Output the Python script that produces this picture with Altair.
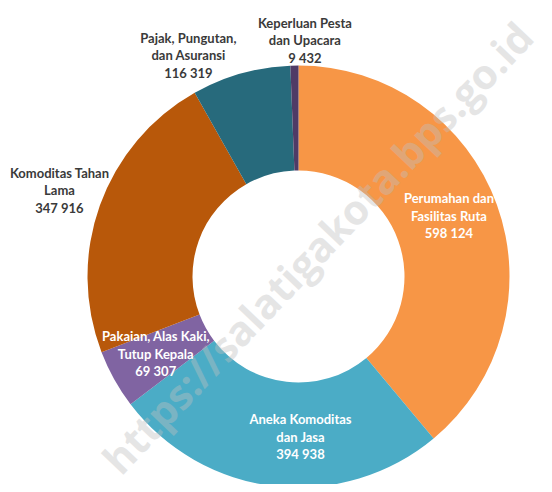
import altair as alt
import pandas as pd

categories = [
    "Perumahan dan Fasilitas Ruta",
    "Aneka Komoditas dan Jasa",
    "Pakaian, Alas Kaki, Tutup Kepala",
    "Komoditas Tahan Lama",
    "Pajak, Pungutan, dan Asuransi",
    "Keperluan Pesta dan Upacara",
]
label_lines = [
    ["Perumahan dan", "Fasilitas Ruta"],
    ["Aneka Komoditas", "dan Jasa"],
    ["Pakaian, Alas Kaki,", "Tutup Kepala"],
    ["Komoditas Tahan", "Lama"],
    ["Pajak, Pungutan,", "dan Asuransi"],
    ["Keperluan Pesta", "dan Upacara"],
]
values = [598124, 394938, 69307, 347916, 116319, 9432]
colors = ["#F79646", "#4BACC6", "#8064A2", "#B8580A", "#276A7C", "#4F3B66"]
watermark = "https://salatigakota.bps.go.id"

df = pd.DataFrame({
    "category": categories,
    "value": values,
    "idx": list(range(len(categories))),
    "label": ["\n".join(l + [f"{v:,}".replace(",", " ")]) for l, v in zip(label_lines, values)],
})

CX, CY = 290.5, 268.5
FONT = "Lato"
SHIFT = -17

arcs = alt.Chart(df).mark_arc(outerRadius=211, innerRadius=106).encode(
    theta=alt.Theta("value:Q", stack=True),
    order=alt.Order("idx:Q"),
    color=alt.Color("category:N", scale=alt.Scale(domain=categories, range=colors), legend=None),
    x=alt.value(CX),
    y=alt.value(CY),
)

base_text = alt.Chart(df).transform_window(
    cum="sum(value)", sort=[alt.SortField("idx")]
).transform_joinaggregate(
    total="sum(value)"
).transform_calculate(
    mid="(datum.cum - datum.value / 2) / datum.total * 2 * PI"
)

# per-label style: radius, dx, dy, colour
label_style = {
    categories[0]: (160, 0, -6, "white"),
    categories[1]: (160, 20, 2, "white"),
    categories[2]: (160, -3, 0, "white"),
    categories[3]: (254, 0, 0, "#3A3A3A"),
    categories[4]: (246, -43, 16, "#3A3A3A"),
    categories[5]: (238, 11, 2, "#3A3A3A"),
}

layers = [arcs]
for cat, (r, dx, dy, col) in label_style.items():
    layers.append(
        base_text.transform_filter(alt.datum.category == cat).mark_text(
            font=FONT, fontSize=13, fontWeight="bold", lineBreak="\n",
            lineHeight=17.5, align="center", baseline="middle",
            dx=dx, dy=dy + SHIFT, color=col,
        ).encode(
            theta=alt.Theta("mid:Q", scale=None),
            radius=alt.value(r),
            text="label:N",
            x=alt.value(CX),
            y=alt.value(CY),
        )
    )

wm = alt.Chart(pd.DataFrame({"t": [watermark]})).mark_text(
    font="Open Sans", fontSize=41, fontWeight="bold", angle=313.5,
    color="#c0c0c0", opacity=0.4, align="center", baseline="middle",
).encode(text="t:N", x=alt.value(312), y=alt.value(242))
layers.append(wm)

chart = alt.layer(*layers).properties(
    width=536, height=476, padding=0, autosize=alt.AutoSizeParams(type="none"),
    background="white",
).configure_view(strokeWidth=0)

chart.save("out.html", embed_options={"renderer": "svg", "actions": False})
